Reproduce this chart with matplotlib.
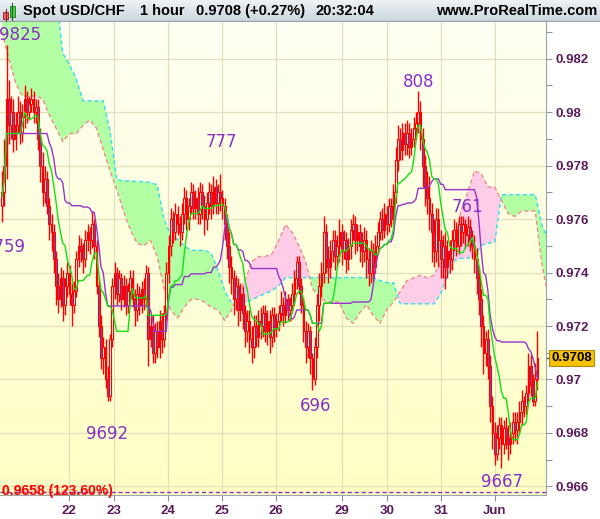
import numpy as np
import pandas as pd
import matplotlib
matplotlib.use("Agg")
import matplotlib.pyplot as plt
from matplotlib.patches import Rectangle
from matplotlib.colors import LinearSegmentedColormap
from matplotlib.transforms import blended_transform_factory

# hourly candles, prices in pips (x 1e-4)
first_open = 9765
close = [
    9770, 9780, 9805, 9795, 9800, 9790, 9795, 9800, 9792, 9798,
    9805, 9800, 9803, 9805, 9800, 9802, 9790, 9780, 9770, 9775,
    9765, 9758, 9755, 9745, 9735, 9730, 9738, 9728, 9735, 9740,
    9732, 9728, 9733, 9745, 9750, 9748, 9745, 9752, 9755, 9752,
    9758, 9750, 9735, 9720, 9708, 9712, 9700, 9694, 9715, 9735,
    9740, 9732, 9738, 9730, 9735, 9728, 9733, 9738, 9730, 9726,
    9732, 9728, 9734, 9730, 9740, 9715, 9720, 9710, 9718, 9712,
    9722, 9715, 9725, 9740, 9750, 9760, 9755, 9762, 9758, 9755,
    9762, 9768, 9760, 9765, 9770, 9764, 9768, 9762, 9770, 9765,
    9760, 9766, 9770, 9765, 9772, 9766, 9770, 9768, 9765, 9758,
    9750, 9742, 9738, 9730, 9735, 9726, 9732, 9725, 9718, 9722,
    9715, 9712, 9720, 9716, 9722, 9720, 9725, 9718, 9722, 9716,
    9724, 9719, 9722, 9725, 9728, 9724, 9730, 9726, 9728, 9732,
    9738, 9744, 9735, 9728, 9718, 9712, 9718, 9708, 9700, 9712,
    9728, 9735, 9740, 9755, 9745, 9742, 9748, 9752, 9746, 9750,
    9755, 9748, 9752, 9745, 9750, 9756, 9758, 9752, 9755, 9750,
    9748, 9752, 9745, 9740, 9748, 9742, 9750, 9755, 9760, 9756,
    9762, 9758, 9765, 9760, 9770, 9782, 9790, 9786, 9792, 9788,
    9792, 9787, 9790, 9794, 9796, 9800, 9790, 9780, 9772, 9768,
    9762, 9755, 9748, 9760, 9752, 9745, 9750, 9742, 9748, 9745,
    9752, 9756, 9750, 9758, 9755, 9758, 9754, 9757, 9752, 9750,
    9745, 9738, 9730, 9720, 9710, 9715, 9705, 9690, 9680, 9672,
    9678, 9683, 9676, 9682, 9678, 9676, 9680, 9684, 9681, 9684,
    9688, 9692, 9690, 9695, 9705, 9698, 9692, 9700, 9708]
high = [
    9778, 9790, 9825, 9812, 9806, 9805, 9800, 9806, 9804, 9803,
    9810, 9808, 9806, 9809, 9808, 9805, 9805, 9794, 9785, 9780,
    9778, 9768, 9762, 9758, 9748, 9740, 9742, 9741, 9738, 9744,
    9743, 9736, 9737, 9748, 9754, 9753, 9751, 9756, 9758, 9757,
    9763, 9760, 9752, 9738, 9724, 9716, 9715, 9705, 9717, 9738,
    9744, 9742, 9741, 9740, 9739, 9738, 9736, 9741, 9741, 9734,
    9736, 9735, 9737, 9738, 9743, 9742, 9724, 9724, 9721, 9722,
    9726, 9725, 9728, 9744, 9754, 9764, 9763, 9766, 9765, 9761,
    9766, 9772, 9771, 9768, 9774, 9773, 9771, 9772, 9774, 9773,
    9769, 9770, 9774, 9773, 9776, 9775, 9773, 9777, 9771, 9768,
    9762, 9755, 9746, 9741, 9739, 9738, 9736, 9735, 9728, 9726,
    9726, 9720, 9724, 9724, 9726, 9727, 9728, 9728, 9726, 9726,
    9727, 9727, 9725, 9728, 9733, 9731, 9733, 9732, 9731, 9736,
    9741, 9746, 9746, 9738, 9731, 9722, 9721, 9720, 9710, 9716,
    9732, 9740, 9744, 9761, 9758, 9750, 9752, 9756, 9756, 9754,
    9760, 9758, 9756, 9755, 9753, 9760, 9762, 9761, 9758, 9758,
    9755, 9757, 9756, 9749, 9752, 9751, 9754, 9759, 9763, 9764,
    9766, 9765, 9768, 9768, 9773, 9787, 9795, 9794, 9796, 9796,
    9797, 9796, 9794, 9798, 9800, 9808, 9804, 9794, 9784, 9778,
    9776, 9766, 9760, 9764, 9764, 9756, 9754, 9755, 9752, 9752,
    9756, 9760, 9759, 9761, 9761, 9761, 9760, 9761, 9760, 9756,
    9754, 9749, 9742, 9734, 9724, 9718, 9719, 9709, 9694, 9684,
    9683, 9686, 9686, 9685, 9686, 9683, 9684, 9688, 9688, 9688,
    9692, 9696, 9694, 9698, 9710, 9709, 9702, 9706, 9718]
low = [
    9759, 9765, 9775, 9788, 9790, 9785, 9786, 9792, 9788, 9789,
    9794, 9796, 9797, 9800, 9796, 9796, 9786, 9774, 9765, 9766,
    9762, 9752, 9748, 9740, 9728, 9725, 9727, 9722, 9724, 9731,
    9728, 9720, 9725, 9731, 9742, 9744, 9740, 9742, 9748, 9747,
    9749, 9745, 9732, 9716, 9704, 9702, 9697, 9692, 9692, 9712,
    9730, 9728, 9729, 9726, 9727, 9724, 9725, 9729, 9727, 9720,
    9722, 9724, 9725, 9726, 9727, 9705, 9712, 9706, 9706, 9708,
    9708, 9710, 9712, 9722, 9736, 9746, 9751, 9752, 9754, 9750,
    9752, 9758, 9756, 9756, 9762, 9760, 9760, 9758, 9758, 9760,
    9754, 9756, 9762, 9760, 9762, 9762, 9762, 9763, 9760, 9752,
    9745, 9736, 9732, 9724, 9726, 9720, 9722, 9719, 9712, 9714,
    9710, 9706, 9708, 9712, 9712, 9715, 9716, 9714, 9713, 9710,
    9712, 9714, 9716, 9718, 9722, 9720, 9721, 9722, 9722, 9725,
    9728, 9734, 9732, 9725, 9714, 9706, 9708, 9702, 9696, 9698,
    9708, 9722, 9731, 9736, 9740, 9736, 9738, 9744, 9741, 9742,
    9744, 9743, 9745, 9740, 9741, 9745, 9752, 9747, 9748, 9744,
    9742, 9744, 9738, 9735, 9736, 9737, 9740, 9747, 9752, 9752,
    9753, 9754, 9755, 9757, 9758, 9766, 9778, 9782, 9782, 9784,
    9784, 9783, 9784, 9787, 9790, 9792, 9786, 9772, 9765, 9762,
    9756, 9744, 9742, 9744, 9742, 9738, 9738, 9734, 9738, 9740,
    9741, 9748, 9746, 9747, 9750, 9751, 9749, 9750, 9748, 9745,
    9740, 9732, 9724, 9712, 9702, 9705, 9700, 9684, 9674, 9668,
    9670, 9674, 9667, 9672, 9674, 9670, 9672, 9676, 9677, 9676,
    9680, 9683, 9686, 9687, 9692, 9694, 9690, 9690, 9696]

# day boundaries (candle index) and labels
day_pos = [29.8, 49.8, 73.8, 97.8, 121.8, 151.1, 171, 195, 219]
day_labels = ['22', '23', '24', '25', '26', '29', '30', '31', 'Jun']

# ichimoku cloud spans, one reading every 3 candles
cloud_step = 3
span_a = [
    9830, 9820, 9811, 9806, 9806, 9806, 9805, 9799, 9794, 9789,
    9792, 9792, 9795, 9797, 9794, 9786, 9778, 9771, 9763, 9756,
    9751, 9750, 9752, 9746, 9734, 9726, 9723, 9727, 9730, 9730,
    9729, 9727, 9726, 9722, 9726, 9732, 9737, 9744, 9746, 9746,
    9747, 9752, 9758, 9755, 9750, 9744, 9734, 9731, 9729, 9729,
    9729, 9723, 9721, 9725, 9728, 9724, 9721, 9726, 9729, 9733,
    9737, 9738, 9739, 9738, 9739, 9744, 9747, 9751, 9763, 9770,
    9778, 9777, 9772, 9772, 9767, 9762, 9761, 9763, 9763, 9763,
    9743, 9730]
span_b = [
    9845, 9845, 9845, 9845, 9845, 9845, 9845, 9845, 9845, 9822,
    9817.7, 9812.5, 9804.2, 9804.2, 9804.2, 9804.2, 9793, 9774.7, 9774.3, 9774.3,
    9774, 9774, 9773.6, 9772.8, 9760, 9754, 9752.5, 9750, 9748.3, 9748.3,
    9748.3, 9747.2, 9740.8, 9733.2, 9728.7, 9728.7, 9728.7, 9729.8, 9731, 9732.1,
    9733.2, 9735.1, 9738.1, 9738.1, 9738.1, 9738.1, 9738.1, 9738.1, 9738.1, 9738.1,
    9738.1, 9738.1, 9738.1, 9738.1, 9738.1, 9738.1, 9737, 9736.2, 9736.2, 9728.3,
    9728.3, 9728.3, 9728.3, 9728.3, 9728.3, 9732.1, 9738.9, 9744.5, 9745.3, 9745.3,
    9746.4, 9750.2, 9750.9, 9751.3, 9769.1, 9769.1, 9769.1, 9769.1, 9769.1, 9769.1,
    9757.7, 9752]

# swing labels: text, candle index, price (pips)
swing_text = ['9825', '9759', '777', '9692', '696', '808', '761', '9667']
swing_idx = [7.8, 0.9, 97.3, 46.7, 139.6, 185.1, 207.1, 222.2]
swing_px = [9829, 9749.4, 9789, 9679.6, 9690.2, 9811.3, 9764.5, 9661.5]

price_ticks = [0.966, 0.968, 0.970, 0.972, 0.974, 0.976, 0.978, 0.980, 0.982]
price_labels = ['0.966', '0.968', '0.97', '0.972', '0.974', '0.976', '0.978', '0.98', '0.982']
fib_level = 0.9658
fib_text = '0.9658 (123.60%)'
last_price = 0.9708

# ---------------------------------------------------------------
c = np.array(close) / 1e4
h = np.array(high) / 1e4
l = np.array(low) / 1e4
o = np.concatenate([[first_open / 1e4], c[:-1]])
n = len(c)

tenkan = (pd.Series(h).rolling(9, min_periods=1).max() + pd.Series(l).rolling(9, min_periods=1).min()) / 2
kijun = (pd.Series(h).rolling(26, min_periods=1).max() + pd.Series(l).rolling(26, min_periods=1).min()) / 2

cx = np.arange(len(span_a)) * cloud_step
sa = np.array(span_a) / 1e4
sb = np.array(span_b) / 1e4

axis_col = '#5c1a5c'
red = '#ff0000'
purple = '#8b2fc9'

fig = plt.figure(figsize=(6, 5.19), dpi=100, facecolor='white')
ax = fig.add_axes([0, 24 / 519, 546 / 600, 473 / 519])
x0, x1 = -0.9, 241.8
y0, y1 = 0.96568, 0.98337
ax.set_xlim(x0, x1)
ax.set_ylim(y0, y1)

# background gradient
cmap = LinearSegmentedColormap.from_list('bg', ['#ffffc4', '#fffff4'])
ax.imshow(np.linspace(0, 1, 256).reshape(-1, 1), cmap=cmap, aspect='auto',
          extent=[x0, x1, y0, y1], origin='lower', zorder=-10)

for p in day_pos:
    ax.axvline(p, color='#e2dfbd', lw=0.9, zorder=-5)
for p in price_ticks:
    ax.axhline(p, color='#e2dfbd', lw=0.9, zorder=-5)

# cloud
ax.fill_between(cx, sa, sb, where=sb >= sa, color='#b3ffa4', interpolate=True, lw=0, zorder=1)
ax.fill_between(cx, sa, sb, where=sa > sb, color='#ffcde8', interpolate=True, lw=0, zorder=1)
ax.plot(cx, sb, color='#33dcee', lw=1, ls=(0, (3, 2)), zorder=1.5)
ax.plot(cx, sa, color='#f08a8a', lw=1, ls=(0, (3, 2)), zorder=1.5)

# candles
for i in range(n):
    ax.plot([i, i], [l[i], h[i]], color=red, lw=1, zorder=2, solid_capstyle='butt')
    bot = min(o[i], c[i])
    hgt = max(abs(c[i] - o[i]), 0.00003)
    fc = '#6a50bc' if c[i] < o[i] else '#fffff0'
    ax.add_patch(Rectangle((i - 0.4, bot), 0.8, hgt, facecolor=fc,
                           edgecolor=red, lw=0.8, zorder=3))

ax.plot(np.arange(n), kijun, color='#9933cc', lw=1, zorder=4)
ax.plot(np.arange(n), tenkan, color='#11e011', lw=1, zorder=4)

for t, xi, yp in zip(swing_text, swing_idx, swing_px):
    ax.text(xi, yp / 1e4, t, color=purple, fontsize=12, ha='center', va='center',
            family='DejaVu Sans', zorder=6, clip_on=True)

ax.axhline(fib_level, color=purple, lw=1, ls=(0, (3, 2)), zorder=5)
trans = blended_transform_factory(ax.transAxes, ax.transData)
ax.text(0.004, fib_level - 0.00002, '\u00a9 ProRealTime.com', transform=trans, color=red,
        alpha=0.25, fontsize=8, va='center', family='Liberation Sans', zorder=5)
ax.text(0.004, fib_level + 0.00003, fib_text, transform=trans, color=red, fontsize=10,
        fontweight='bold', va='center', family='Liberation Sans', zorder=6)

# axes styling
for s in ['top', 'left']:
    ax.spines[s].set_visible(False)
ax.spines['right'].set_color('#9aa4aa')
ax.spines['bottom'].set_color('#9aa4aa')
ax.yaxis.tick_right()
ax.set_yticks(price_ticks)
ax.set_yticklabels(price_labels)
ax.set_yticks(np.arange(0.967, 0.9835, 0.002), minor=True)
ax.set_xticks(day_pos)
ax.set_xticklabels(day_labels)
ax.tick_params(axis='both', which='both', colors='#8a949a', length=4, width=0.8,
               labelcolor=axis_col, labelsize=9.5)
ax.tick_params(axis='y', pad=3)
ax.tick_params(axis='x', pad=3)
for lab in ax.get_xticklabels() + ax.get_yticklabels():
    lab.set_fontweight('bold')
    lab.set_family('Liberation Sans')

# last price box
ax.plot([1.0, 1.008], [last_price, last_price], transform=trans, color='#7a2a7a',
        lw=1, clip_on=False)
ax.text(1.01, last_price, '0.9708', transform=trans, fontsize=9.5, fontweight='bold',
        family='Liberation Sans', color='black', va='center', ha='left', zorder=7,
        bbox=dict(boxstyle='square,pad=0.18', facecolor='#f7c300', edgecolor='#a88a20', lw=0.8))

# header bar
hx = fig.add_axes([0, 1 - 22 / 519, 1, 22 / 519])
hx.set_xlim(0, 600)
hx.set_ylim(22, 0)
hmap = LinearSegmentedColormap.from_list('hd', ['#edf2f5', '#c9d6de'])
hx.imshow(np.linspace(0, 1, 64).reshape(-1, 1), cmap=hmap, aspect='auto',
          extent=[0, 600, 22, 0], origin='upper')
hx.axis('off')
hx.plot([0, 600], [21.5, 21.5], color='#9aa4aa', lw=1)
hx.plot([5.5, 5.5], [9, 21], color='#8a2020', lw=0.8)
hx.add_patch(Rectangle((3, 12), 5, 7, facecolor='#f06060', edgecolor='#902020', lw=0.6))
hx.plot([12, 12], [3, 20], color='#206020', lw=0.8)
hx.add_patch(Rectangle((9.5, 5.5), 5, 12, facecolor='#44d844', edgecolor='#207020', lw=0.6))
hdr = dict(fontsize=10.5, fontweight='bold', family='Liberation Sans', color='black', va='center')
hx.text(23, 11.5, 'Spot USD/CHF', **hdr)
hx.text(140, 11.5, '1 hour', **hdr)
hx.text(196, 11.5, '0.9708 (+0.27%)', **hdr)
hx.text(316, 11.5, '20:32:04', **hdr)
hx.text(597, 11.5, 'www.ProRealTime.com', ha='right', **hdr)

fig.savefig('out.png', dpi=100, facecolor='white')
